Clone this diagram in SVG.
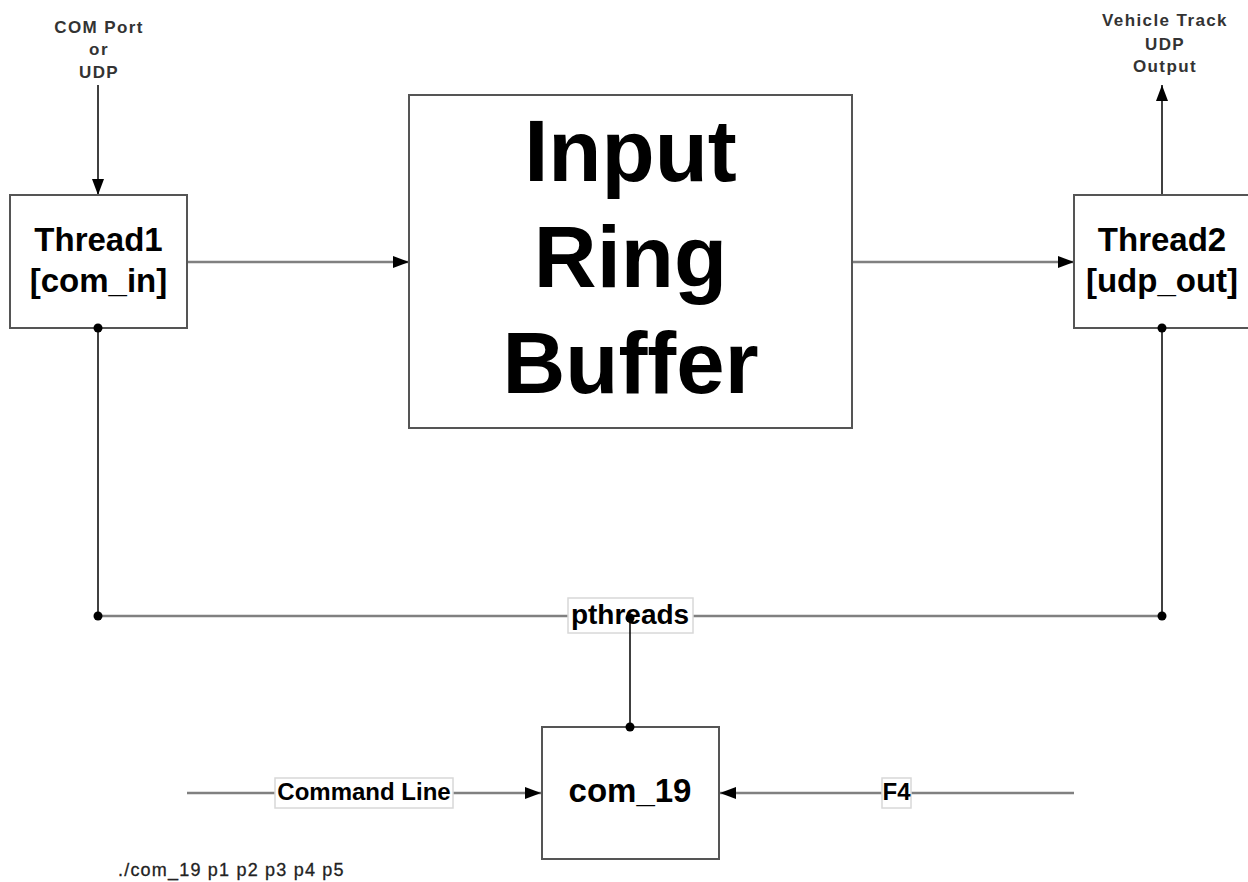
<svg xmlns="http://www.w3.org/2000/svg" width="1248" height="882" viewBox="0 0 1248 882">
  <defs>
    <marker id="arr" markerUnits="userSpaceOnUse" markerWidth="16" markerHeight="12" refX="16" refY="6" orient="auto">
      <path d="M0,0 L16,6 L0,12 z" fill="#000"/>
    </marker>
    <style>
      .box { fill: #fff; stroke: #555; stroke-width: 2; }
      .lbl { fill: #fff; stroke: #d8d8d8; stroke-width: 1.5; }
      .h { stroke: #808080; stroke-width: 2.5; fill: none; }
      .v { stroke: #000; stroke-width: 1.5; fill: none; }
      .dot { fill: #000; }
      .t { font-family: "Liberation Sans", Arial, sans-serif; font-weight: bold; fill: #000; text-anchor: middle; }
      .s { font-family: "Liberation Sans", Arial, sans-serif; font-weight: bold; fill: #333; text-anchor: middle; font-size: 17px; letter-spacing: 1.4px; }
    </style>
  </defs>
  <rect width="1248" height="882" fill="#fff"/>

  <g id="connectors">
    <line class="v" x1="98" y1="85" x2="98" y2="195" marker-end="url(#arr)"/>
    <line class="v" x1="1162" y1="195" x2="1162" y2="85" marker-end="url(#arr)"/>
    <line class="h" x1="187" y1="262" x2="409" y2="262" marker-end="url(#arr)"/>
    <line class="h" x1="852" y1="262" x2="1074" y2="262" marker-end="url(#arr)"/>
    <line class="v" x1="98" y1="328" x2="98" y2="616"/>
    <line class="v" x1="1162" y1="328" x2="1162" y2="616"/>
    <line class="h" x1="98" y1="616" x2="1162" y2="616"/>
    <line class="h" x1="187" y1="793" x2="541" y2="793" marker-end="url(#arr)"/>
    <line class="h" x1="1074" y1="793" x2="720" y2="793" marker-end="url(#arr)"/>
  </g>

  <g id="label-com-port">
    <text class="s" x="99" y="33">COM Port</text>
    <text class="s" x="99" y="55">or</text>
    <text class="s" x="99" y="78">UDP</text>
  </g>

  <g id="label-vehicle-track">
    <text class="s" x="1165" y="26">Vehicle Track</text>
    <text class="s" x="1165" y="50">UDP</text>
    <text class="s" x="1165" y="72">Output</text>
  </g>

  <g id="thread1">
    <rect class="box" x="10" y="195" width="177" height="133"/>
    <text class="t" x="98.5" y="251" font-size="33">Thread1</text>
    <text class="t" x="98.5" y="292" font-size="33">[com_in]</text>
  </g>

  <g id="ring-buffer">
    <rect class="box" x="409" y="95" width="443" height="333"/>
    <text class="t" x="630.5" y="181" font-size="87">Input</text>
    <text class="t" x="630.5" y="287" font-size="87">Ring</text>
    <text class="t" x="630.5" y="393" font-size="87">Buffer</text>
  </g>

  <g id="thread2">
    <rect class="box" x="1074" y="195" width="177" height="133"/>
    <text class="t" x="1162" y="251" font-size="33">Thread2</text>
    <text class="t" x="1162" y="292" font-size="33">[udp_out]</text>
  </g>

  <g id="pthreads">
    <rect class="lbl" x="568" y="598" width="125" height="35"/>
    <text class="t" x="630" y="624" font-size="28">pthreads</text>
  </g>

  <g id="com19">
    <rect class="box" x="542" y="727" width="177" height="132"/>
    <text class="t" x="630" y="802" font-size="33">com_19</text>
  </g>

  <g id="bus-link">
    <line class="v" x1="630" y1="618" x2="630" y2="727"/>
    <circle class="dot" cx="630" cy="618" r="4.5"/>
    <circle class="dot" cx="630" cy="727" r="4.5"/>
    <circle class="dot" cx="98" cy="328" r="4.5"/>
    <circle class="dot" cx="1162" cy="328" r="4.5"/>
    <circle class="dot" cx="98" cy="616" r="4.5"/>
    <circle class="dot" cx="1162" cy="616" r="4.5"/>
  </g>

  <g id="command-line">
    <rect class="lbl" x="275" y="778" width="178" height="30"/>
    <text class="t" x="364" y="800" font-size="24">Command Line</text>
  </g>

  <g id="f4">
    <rect class="lbl" x="882" y="778" width="29" height="30"/>
    <text class="t" x="896.5" y="800" font-size="24">F4</text>
  </g>

  <g id="usage">
    <text x="118" y="876" font-family="Liberation Sans, Arial, sans-serif" font-size="18" letter-spacing="1.2" fill="#222" stroke="#222" stroke-width="0.3">./com_19 p1 p2 p3 p4 p5</text>
  </g>
</svg>
